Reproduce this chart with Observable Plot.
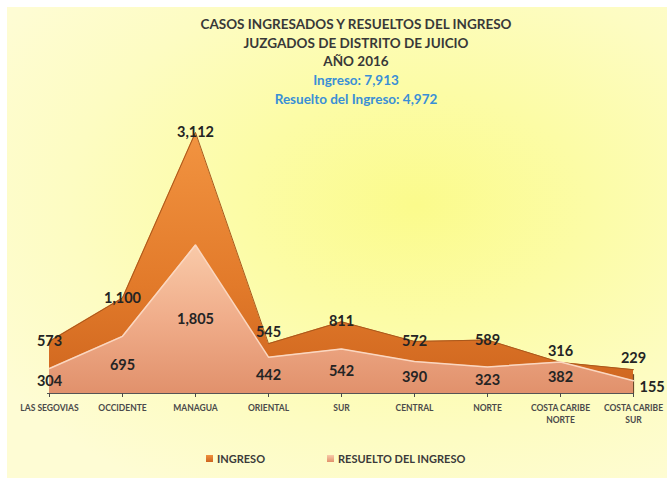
<!DOCTYPE html>
<html>
<head>
<meta charset="utf-8">
<script src="https://cdn.jsdelivr.net/npm/d3@7"></script>
<script src="https://cdn.jsdelivr.net/npm/@observablehq/plot@0.6"></script>
<style>
  html, body { margin: 0; padding: 0; background: #ffffff; }
  #wrap {
    position: absolute; left: 7px; top: 7px; width: 660px; height: 471px; overflow: hidden;
    background: radial-gradient(ellipse 75% 70% at 62% 42%, #fbfb8c 0%, #fcfca6 35%, #fdfcc2 70%, #fefcd4 100%);
    font-family: Lato, "Open Sans", sans-serif;
  }
  #title {
    box-sizing: border-box; height: 101px; padding-top: 8px; padding-left: 38px; text-align: center;
    font-weight: 700; font-size: 13.5px; line-height: 18.7px; color: #383838;
  }
  #title .blue { color: #3a8fd6; }
  #legend { position: relative; height: 40px; font-size: 11px; font-weight: 700; color: #3a3a3a; }
  .item { position: absolute; top: 25px; line-height: 12px; white-space: nowrap; }
  .sw { display: inline-block; width: 7px; height: 7px; margin-right: 4px; vertical-align: 1px; }
</style>
</head>
<body>
<div id="wrap">
  <div id="title"></div>
  <div id="chart"></div>
  <div id="legend"></div>
</div>
<script>
// ---- data ----
const titleLines = ["CASOS INGRESADOS Y RESUELTOS DEL INGRESO", "JUZGADOS DE DISTRITO DE JUICIO", "AÑO 2016"];
const totalLines = ["Ingreso: 7,913", "Resuelto del Ingreso: 4,972"];
const regiones = ["LAS SEGOVIAS", "OCCIDENTE", "MANAGUA", "ORIENTAL", "SUR", "CENTRAL", "NORTE", "COSTA CARIBE NORTE", "COSTA CARIBE SUR"];
const ingreso  = [573, 1100, 3112, 545, 811, 572, 589, 316, 229];
const resuelto = [304, 695, 1805, 442, 542, 390, 323, 382, 155];
const seriesNames = ["INGRESO", "RESUELTO DEL INGRESO"];

// ---- title ----
const t = document.getElementById("title");
titleLines.forEach(s => { const d = document.createElement("div"); d.textContent = s; t.appendChild(d); });
totalLines.forEach(s => { const d = document.createElement("div"); d.className = "blue"; d.textContent = s; t.appendChild(d); });

const rows = regiones.map((r, i) => ({region: r, ingreso: ingreso[i], resuelto: resuelto[i], i}));
const fmt = d3.format(",");
const last = regiones.length - 1;
const labelFont = {fontSize: 14.5, fontWeight: "bold", fill: "#242424", fontFamily: "Lato, sans-serif"};

const chart = Plot.plot({
  width: 660, height: 320,
  marginLeft: 40, marginRight: 33, marginTop: 5.3, marginBottom: 35,
  style: {background: "transparent", color: "#4a4a4a", overflow: "visible", fontFamily: "Lato, sans-serif"},
  x: {type: "point", domain: regiones, padding: 0, label: null},
  y: {domain: [0, 3400], axis: null},
  marks: [
    Plot.areaY(rows, {x: "region", y: "ingreso", fill: "url(#gIng)", dy: -5}),
    Plot.lineY(rows, {x: "region", y: "ingreso", stroke: "#a9581c", strokeWidth: 1, dy: -5}),
    Plot.ruleX([rows[last]], {x: "region", y1: 0, y2: "ingreso", stroke: "#6a4a2a", strokeWidth: 1.2}),
    Plot.areaY(rows, {x: "region", y: "resuelto", fill: "url(#gRes)"}),
    Plot.lineY(rows, {x: "region", y: "resuelto", stroke: "#fbd7c0", strokeWidth: 1.5}),
    Plot.ruleY([0], {stroke: "#555"}),
    Plot.axisX({tickSize: 4, tickPadding: 5, fontSize: 8.5, fontWeight: "bold", lineHeight: 1.4,
      tickFormat: d => d.replace(/^(COSTA CARIBE) /, "$1\n")}),
    Plot.text(rows, {filter: d => d.ingreso - d.resuelto >= 150, x: "region", y: "ingreso",
      text: d => fmt(d.ingreso), dy: -5, ...labelFont}),
    Plot.text(rows, {filter: d => d.ingreso - d.resuelto < 150, x: "region", y: "ingreso",
      text: d => fmt(d.ingreso), dy: -16, ...labelFont}),
    Plot.text(rows, {filter: d => d.i !== last, x: "region", y: d => d.resuelto / 2,
      text: d => fmt(d.resuelto), ...labelFont}),
    Plot.text(rows, {filter: d => d.i === last, x: "region", y: d => d.resuelto / 2,
      text: d => fmt(d.resuelto), textAnchor: "start", dx: 6, ...labelFont})
  ]
});

const ns = "http://www.w3.org/2000/svg";
const defs = document.createElementNS(ns, "defs");
defs.innerHTML = `
  <linearGradient id="gIng" x1="0" y1="0" x2="0" y2="1">
    <stop offset="0" stop-color="#f29441"/>
    <stop offset="0.6" stop-color="#e27a2a"/>
    <stop offset="1" stop-color="#cf661f"/>
  </linearGradient>
  <linearGradient id="gRes" x1="0" y1="0" x2="0" y2="1">
    <stop offset="0" stop-color="#f9caa9"/>
    <stop offset="0.5" stop-color="#f0ad8a"/>
    <stop offset="1" stop-color="#e1916c"/>
  </linearGradient>`;
chart.insertBefore(defs, chart.firstChild);
document.getElementById("chart").appendChild(chart);

// ---- legend ----
const lg = document.getElementById("legend");
const swatches = ["linear-gradient(#f0903c,#cd641f)", "linear-gradient(#f9caa9,#e1916c)"];
const lefts = [199, 320];
seriesNames.forEach((n, i) => {
  const it = document.createElement("div");
  it.className = "item"; it.style.left = lefts[i] + "px";
  const sw = document.createElement("span"); sw.className = "sw"; sw.style.background = swatches[i];
  it.appendChild(sw); it.appendChild(document.createTextNode(n));
  lg.appendChild(it);
});
</script>
</body>
</html>
